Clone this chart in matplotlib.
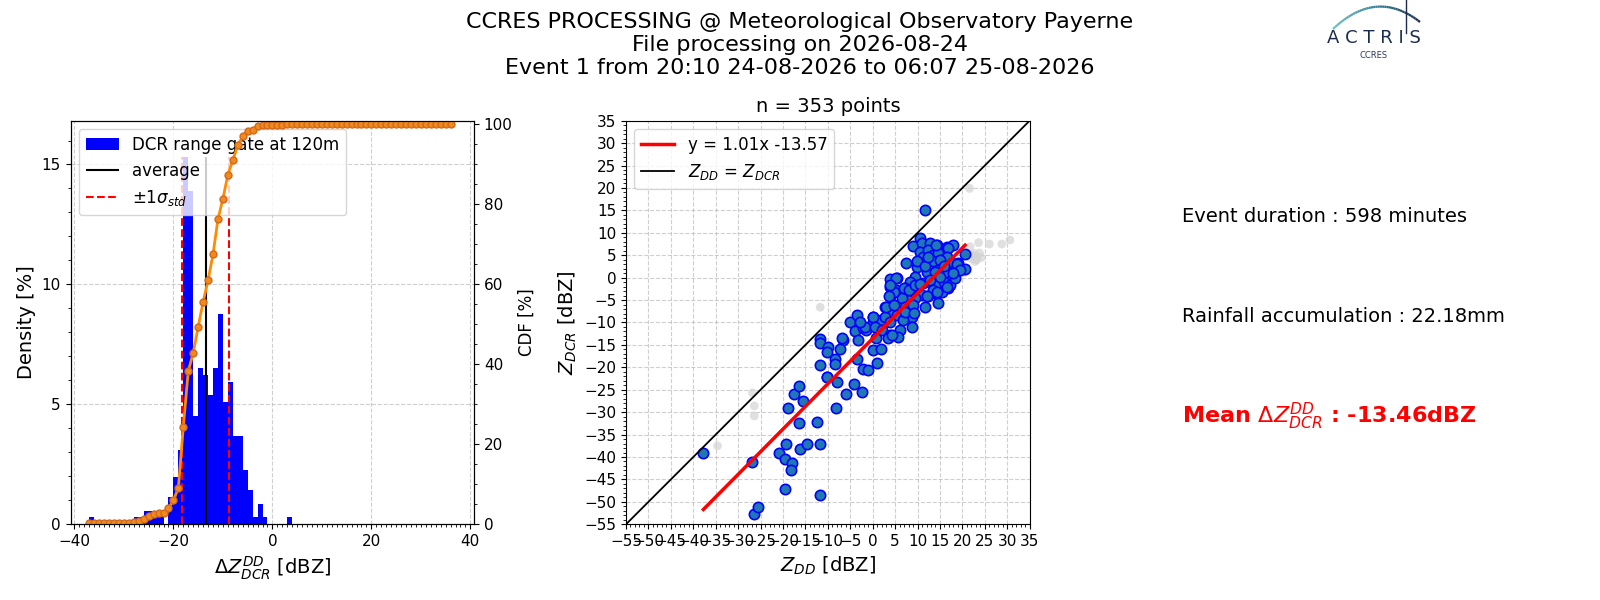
import numpy as np
import matplotlib
matplotlib.use("Agg")
import matplotlib.pyplot as plt
from matplotlib.ticker import MultipleLocator
from matplotlib.collections import LineCollection

# ---- data ----
# histogram of dZ (DCR - DD), counts in 1 dBZ bins, left edges -37 ... 36
bin_left = np.arange(-37, 37)
hist_counts = [1, 0, 0, 0, 0, 0, 0, 0, 0,                 # -37 .. -29
               1, 1, 2, 2, 2, 1, 0,                        # -28 .. -22
               4, 7, 11, 54, 49, 16, 23, 22, 19, 23, 31,   # -21 .. -11
               18, 21, 13, 13, 8, 5, 1, 3, 1, 0,           # -10 .. -1
               0, 0, 0, 1, 0, 0, 0, 0, 0, 0, 0,            # 0 .. 10
               0, 0, 0, 0, 0, 0, 0, 0, 0, 0, 0,            # 11 .. 21
               0, 0, 0, 0, 0, 0, 0, 0, 0, 0, 0, 0, 0, 0, 0]  # 22 .. 36
mean_dz = -13.46
std_dz = 4.72
n_points = 353

# scatter: Z_DD vs Z_DCR (kept points)
z_dd = [-37.75, -26.8, -26.4, -25.5, -19.5, -11.7, -21.0, -19.5, -17.9, -18.3,
        -19.4, -16.1, -14.6, -11.7, -16.35, -12.5, -18.8, -15.45, -17.5, -16.35,
        -11.7, -11.7, -11.7, -9.9, -10.1, -10.1, -8.2, -8.4, -8.5, -8.0,
        -5.05, -3.4, -3.9, -3.2, -2.1, -1.55, 0.0, 0.16, 1.9, 0.75,
        0.0, 1.9, 0.9, -3.6, -2.1, -1.1, -6.7, -7.4, -10.25, -5.9,
        -4.1, -2.4, 11.7, 10.56, 9.07, 7.44, 10.9, 12.8, 14.3, 16.5,
        18.0, 16.9, 19.1, 20.6, 20.6, 10.56, 11.3, 12.05, 12.4, 13.5,
        14.65, 15.4, 16.5, 17.6, 18.4, 17.25, 16.1, 14.3, 13.2, 12.05,
        9.8, 9.45, 8.3, 3.9, 5.4, 3.9, 3.9, 5.2, 7.2, 8.7,
        10.2, 11.3, 12.8, 14.3, 15.8, 16.9, 15.4, 13.9, 12.4, 10.9,
        9.45, 7.96, 6.5, 7.2, 9.07, 11.7, 14.65, 2.76, 4.6, 4.2,
        5.4, 2.76, 8.7, 6.8, 8.7, 3.9, 0.15, -1.7, -2.8, 0.5,
        2.0, 3.9, 6.1, 5.7, -6.9, 9.8, 18.9, 17.25, 3.5, 4.25,
        3.0, 13.5, 15.0, 11.7, 13.9, 15.8, 12.8, 15.0, 13.5, 18.4,
        19.5, 14.1, 12.4, 18.0, 16.5, 14.3, 12.05, 4.8, 3.7, 4.76,
        7.2, 9.3, 7.0, 8.2, 9.45, 10.56, 5.2, 3.88]
z_dcr = [-39.2, -41.2, -52.7, -51.1, -47.2, -48.5, -39.2, -40.5, -41.3, -42.9,
         -37.2, -38.2, -37.2, -37.2, -32.4, -32.3, -29.1, -27.5, -26.0, -24.2,
         -19.5, -13.75, -14.6, -15.4, -16.65, -22.2, -29.1, -18.2, -19.3, -23.2,
         -9.8, -8.3, -12.0, -14.0, -11.3, -11.7, -10.0, -8.8, -9.4, -13.4,
         -16.1, -16.0, -19.0, -18.2, -20.4, -20.7, -13.9, -16.0, -22.1, -26.0,
         -23.7, -25.6, 15.1, 8.9, 7.06, 3.3, 7.66, 7.66, 7.3, 6.9,
         7.3, 6.5, 3.2, 5.3, 1.9, 5.8, 4.7, 3.6, 6.2, 5.05,
         5.4, 3.9, 4.7, 3.2, 1.7, 0.2, 1.3, 1.7, 1.0, 1.3,
         2.45, 0.2, -0.9, -0.4, -0.15, -2.0, -4.1, -2.75, -2.4, -2.75,
         -2.0, -1.3, -0.9, -1.6, -0.9, -2.4, -3.1, -3.5, -4.2, -3.9,
         -4.6, -5.0, -4.6, -6.5, -6.1, -6.6, -5.7, -6.5, -6.1, -7.6,
         -8.3, -8.7, -8.7, -9.4, -10.9, -9.8, -8.7, -10.9, -9.8, -10.9,
         -11.7, -12.8, -11.7, -13.2, -13.5, 3.7, 3.06, -1.6, -13.4, -12.85,
         -6.5, 3.6, 3.95, 2.5, 1.35, 2.5, -0.5, 0.2, -2.7, -0.1,
         1.7, 7.3, 4.7, 1.0, -2.0, -3.1, -4.2, -3.3, -4.0, -6.1,
         -7.6, -7.8, -2.4, -2.7, -1.6, -1.4, -0.14, -1.63]

# rejected points (grey)
z_dd_out = [21.6, 23.6, 26.0, 28.8, 30.6, 21.7, 22.1, 23.2, 22.8, 22.5,
            23.2, 20.2, 23.8, 24.2, 22.0, -11.7, -26.8, -26.4, -26.4, -34.6]
z_dcr_out = [19.9, 7.8, 7.5, 7.5, 8.4, 6.9, 5.05, 4.7, 3.6, 5.4,
             3.95, 1.0, 5.5, 4.5, 4.2, -6.6, -25.7, -28.6, -30.85, -37.5]

fit_slope = 1.01
fit_offset = -13.57
event_minutes = 598
rain_mm = 22.18

title_lines = ["CCRES PROCESSING @ Meteorological Observatory Payerne",
               "File processing on 2026-08-24",
               "Event 1 from 20:10 24-08-2026 to 06:07 25-08-2026"]

# ---- figure ----
fig = plt.figure(figsize=(16, 6), dpi=100)
fig.suptitle("\n".join(title_lines), fontsize=16)

tick_fs = 11

# histogram + CDF
ax1 = fig.add_axes([0.0442, 0.1262, 0.2521, 0.6727])
dens = np.array(hist_counts) / sum(hist_counts) * 100
cdf = np.cumsum(dens)
h_bar = ax1.bar(bin_left, dens, width=1, align="edge", color="blue",
                label="DCR range gate at 120m")
h_avg = ax1.vlines(mean_dz, 0, dens.max(), color="k", label="average")
h_std = ax1.vlines([mean_dz - std_dz, mean_dz + std_dz], 0, dens.max(),
                   colors="red", linestyles="--", label=r"$\pm1\sigma_{std}$")
ax1.set_xlim(-40.75, 40.75)
ax1.set_ylim(0, dens.max() * 1.1)
ax1.xaxis.set_major_locator(MultipleLocator(20))
ax1.xaxis.set_minor_locator(MultipleLocator(1))
ax1.yaxis.set_major_locator(MultipleLocator(5))
ax1.yaxis.set_minor_locator(MultipleLocator(1))
ax1.grid(True, ls="--", alpha=0.6)
ax1.set_axisbelow(True)
ax1.tick_params(labelsize=tick_fs)
ax1.set_xlabel(r"$\Delta Z_{DCR}^{DD}$ [dBZ]", fontsize=14)
ax1.set_ylabel("Density [%]", fontsize=14)
ax1.legend(handles=[h_bar, h_avg, h_std], loc="upper left", fontsize=12)

ax1b = ax1.twinx()
ax1b.plot(bin_left, cdf, "-o", color="darkorange", lw=2, ms=5,
          mfc="#f08a1c", mec="#d2691e")
ax1b.set_ylim(0, 100.8)
ax1b.yaxis.set_major_locator(MultipleLocator(20))
ax1b.yaxis.set_minor_locator(MultipleLocator(5))
ax1b.tick_params(labelsize=tick_fs)
ax1b.set_ylabel("CDF [%]", fontsize=12)

# scatter
ax2 = fig.add_axes([0.39125, 0.1262, 0.2523, 0.6727])
ax2.scatter(z_dd_out, z_dcr_out, s=40, color="lightgray", alpha=0.7,
            edgecolors="none", zorder=2)
ax2.scatter(z_dd, z_dcr, s=55, c="tab:blue", edgecolors="blue",
            linewidths=1.2, zorder=3)
xfit = np.array([min(z_dd), max(z_dd)])
ax2.plot(xfit, fit_slope * xfit + fit_offset, color="red", lw=2.5, zorder=4,
         label=f"y = {fit_slope:.2f}x {fit_offset:.2f}")
ax2.plot([-55, 35], [-55, 35], color="k", lw=1.3, zorder=4,
         label=r"$Z_{DD}$ = $Z_{DCR}$")
ax2.set_xlim(-55, 35)
ax2.set_ylim(-55, 35)
ax2.xaxis.set_major_locator(MultipleLocator(5))
ax2.yaxis.set_major_locator(MultipleLocator(5))
ax2.xaxis.set_minor_locator(MultipleLocator(1))
ax2.yaxis.set_minor_locator(MultipleLocator(1))
ax2.grid(True, ls="--", alpha=0.6)
ax2.set_axisbelow(True)
ax2.tick_params(labelsize=tick_fs)
ax2.set_xlabel(r"$Z_{DD}$ [dBZ]", fontsize=14)
ax2.set_ylabel(r"$Z_{DCR}$ [dBZ]", fontsize=14)
ax2.set_title(f"n = {n_points} points", fontsize=14)
ax2.legend(loc="upper left", fontsize=12)

# text panel
ax3 = fig.add_axes([0.739, 0.1262, 0.2523, 0.6727])
ax3.axis("off")
ax3.text(0, 0.75, f"Event duration : {event_minutes} minutes", fontsize=14,
         transform=ax3.transAxes)
ax3.text(0, 0.5, f"Rainfall accumulation : {rain_mm:.2f}mm", fontsize=14,
         transform=ax3.transAxes)
ax3.text(0, 0.25, r"Mean $\Delta Z_{DCR}^{DD}$ : " + f"{mean_dz:.2f}dBZ",
         fontsize=16, color="red", fontweight="bold", transform=ax3.transAxes)

# ACTRIS logo (drawn, not an image)
W, H = 1600.0, 600.0
t = np.linspace(0, 1, 40)
px = 1333 + (1420 - 1333) * t
py = 29 - 60 * t * (1 - t) * 1.25 + (22 - 29) * t
pts = np.column_stack([px / W, 1 - py / H])
segs = np.stack([pts[:-1], pts[1:]], axis=1)
cols = plt.matplotlib.colors.LinearSegmentedColormap.from_list(
    "actris", ["#6cc0c0", "#2f7f96", "#1b2c4c"])(t[:-1])
fig.add_artist(LineCollection(segs, colors=cols, linewidths=1.6,
                              transform=fig.transFigure))
fig.add_artist(plt.Line2D([1406 / W, 1406 / W], [1.0, 1 - 33 / H],
                          color="#1b2c4c", lw=1.0, transform=fig.transFigure))
fig.text(1374 / W, 1 - 43 / H, "A C T R I S", fontsize=13, color="#1b2c4c",
         ha="center", va="baseline")
fig.text(1374 / W, 1 - 55 / H, "CCRES", fontsize=6, color="#2a3a5a",
         ha="center", va="center")

fig.savefig("out.png", dpi=100)
